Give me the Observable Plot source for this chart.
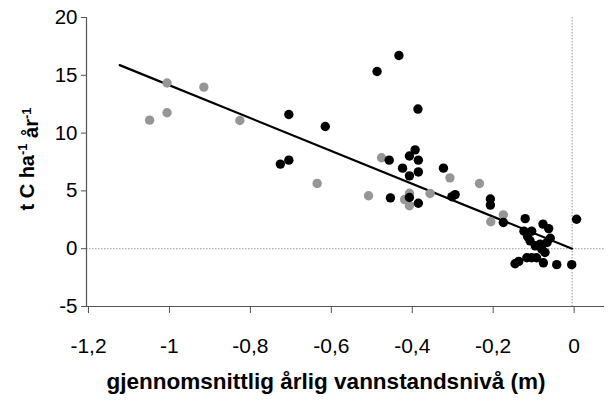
<!DOCTYPE html>
<html><head><meta charset="utf-8">
<script src="https://cdn.jsdelivr.net/npm/d3@7"></script>
<script src="https://cdn.jsdelivr.net/npm/@observablehq/plot@0.6"></script>
<style>body{margin:0;background:#fff}</style>
</head><body><div id="chart"></div>
<script>
const greyX = [-1.044,-1.001,-1.001,-0.910,-0.821,-0.630,-0.503,-0.471,-0.414,-0.402,-0.402,-0.351,-0.302,-0.229,-0.201,-0.170];
const greyY = [11.12,14.33,11.76,13.98,11.09,5.64,4.58,7.87,4.25,4.80,3.72,4.78,6.13,5.64,2.33,2.93];
const blackX = [-0.721,-0.700,-0.700,-0.610,-0.482,-0.428,-0.381,-0.452,-0.388,-0.402,-0.380,-0.419,-0.380,-0.402,-0.318,-0.449,-0.402,-0.380,-0.297,-0.289,-0.202,-0.202,-0.170,-0.116,0.011,-0.072,-0.058,-0.119,-0.100,-0.104,-0.091,-0.079,-0.062,-0.054,-0.067,-0.112,-0.100,-0.088,-0.141,-0.132,-0.071,-0.038,-0.001,-0.110,-0.075];
const blackY = [7.32,7.66,11.61,10.57,15.33,16.71,12.08,7.66,8.55,8.02,7.66,6.97,6.64,6.30,6.97,4.40,4.43,3.93,4.50,4.68,4.30,3.77,2.27,2.60,2.55,2.13,1.74,1.52,1.52,0.68,0.25,0.40,0.54,0.90,-0.33,-0.78,-0.78,-0.78,-1.30,-1.10,-1.22,-1.38,-1.38,1.05,-0.05];
const fitX = [-1.118, 0];
const fitY = [15.88, 0];
const xTicks = [-1.2,-1,-0.8,-0.6,-0.4,-0.2,0];
const xTickLabels = ["-1,2","-1","-0,8","-0,6","-0,4","-0,2","0"];
const yTicks = [-5,0,5,10,15,20];
const yTickLabels = ["-5","0","5","10","15","20"];
const xTitle = "gjennomsnittlig årlig vannstandsnivå (m)";
const yTitleParts = ["t C ha", "-1", " år", "-1"];

const grey = greyX.map((x,i)=>({x, y: greyY[i]}));
const black = blackX.map((x,i)=>({x, y: blackY[i]}));
const fit = fitX.map((x,i)=>({x, y: fitY[i]}));
const axisColor = "#555";
const font = "'Liberation Sans', Arial, sans-serif";

const svg = Plot.plot({
  width: 608, height: 405,
  marginLeft: 86, marginRight: 4, marginTop: 17, marginBottom: 99,
  x: {domain: [-1.2, 0.08]},
  y: {domain: [-5, 20]},
  style: {fontFamily: font, fontSize: "20px", color: "#000", background: "#fff"},
  marks: [
    Plot.ruleY([0], {stroke: "#999", strokeDasharray: "1.5,1.5", strokeWidth: 1}),
    Plot.ruleX([0], {stroke: "#999", strokeDasharray: "1.5,1.5", strokeWidth: 1}),
    Plot.axisX({ticks: xTicks, tickFormat: d => xTickLabels[xTicks.indexOf(d)], tickSize: 7, tickPadding: 25, stroke: axisColor, fill: "#000", label: null, fontSize: 21, dx: 2}),
    Plot.axisY({ticks: yTicks, tickFormat: d => yTickLabels[yTicks.indexOf(d)], tickSize: 5, tickPadding: 4, stroke: axisColor, fill: "#000", label: null, fontSize: 20.5}),
    Plot.ruleY([-5], {stroke: axisColor, strokeWidth: 1.2}),
    Plot.ruleX([-1.2], {stroke: axisColor, strokeWidth: 1.2}),
    Plot.line(fit, {x: "x", y: "y", stroke: "#000", strokeWidth: 2.2}),
    Plot.dot(grey, {x: "x", y: "y", r: 4.7, fill: "#969696"}),
    Plot.dot(black, {x: "x", y: "y", r: 4.7, fill: "#000"})
  ]
});
document.getElementById("chart").appendChild(svg);

const s = d3.select(svg);
s.append("text")
  .attr("x", 326).attr("y", 389)
  .attr("text-anchor", "middle")
  .attr("font-family", font).attr("font-weight", "bold").attr("font-size", 22.5)
  .attr("fill", "#000")
  .text(xTitle);

const yt = s.append("text")
  .attr("transform", "translate(34,159) rotate(-90)")
  .attr("text-anchor", "middle")
  .attr("font-family", font).attr("font-weight", "bold").attr("font-size", 20)
  .attr("fill", "#000");
yt.append("tspan").text(yTitleParts[0]);
yt.append("tspan").attr("dy", "-0.55em").attr("font-size", 13).text(yTitleParts[1]);
yt.append("tspan").attr("dy", "0.55em").text(yTitleParts[2]);
yt.append("tspan").attr("dy", "-0.55em").attr("font-size", 13).text(yTitleParts[3]);
</script>
</body></html>
